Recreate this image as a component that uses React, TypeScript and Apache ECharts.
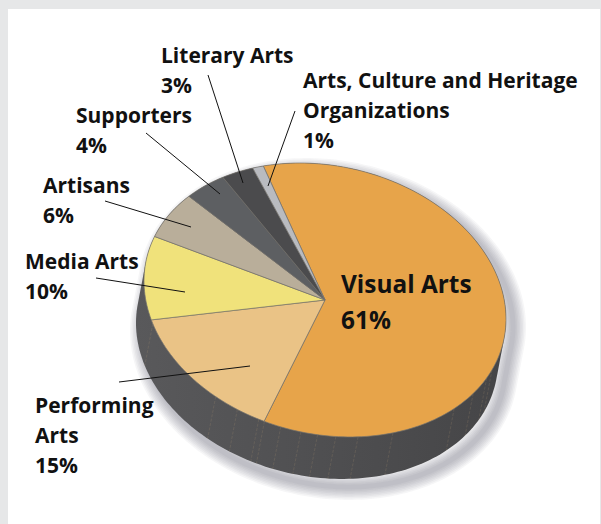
import React, { useEffect, useRef } from "react";
import * as echarts from "echarts";

const categories = [
  "Visual Arts",
  "Performing\nArts",
  "Media Arts",
  "Artisans",
  "Supporters",
  "Literary Arts",
  "Arts, Culture and Heritage\nOrganizations",
];
const shares = [61, 15, 10, 6, 4, 3, 1];
const sliceColors = ["#e7a44a", "#eac386", "#f0e27b", "#b9ae9a", "#5d5f62", "#4b4b4d", "#b9bbc0"];
// Seams on the pie's side wall, as angles round the disc (degrees, clockwise from the long axis)
const wallSeams = [13, 17, 25.4, 34.8, 58.3, 69.8, 76.9, 82.7, 88, 94.5, 99.9, 101.8, 109.3, 117.5, 152.4];
// Stroke widths of the stacked translucent outlines that make the soft drop shadow
const shadowLayers = [26, 23, 20, 17, 14, 11, 8, 5];

const CX = 325, CY = 300, A = 183.2, B = 134, TILT = (13.1 * Math.PI) / 180;
const DX = -8, DY = 42;
const START = -119.6;
const rad = (d: number) => (d * Math.PI) / 180;
const cosT = Math.cos(TILT), sinT = Math.sin(TILT);
const rim = (deg: number, ox = 0, oy = 0): number[] => {
  const x = A * Math.cos(rad(deg)), y = B * Math.sin(rad(deg));
  return [CX + x * cosT - y * sinT + ox, CY + x * sinT + y * cosT + oy];
};
const arc = (from: number, to: number, ox = 0, oy = 0) => {
  const n = Math.max(2, Math.ceil(Math.abs(to - from) / 1.5));
  const pts: number[][] = [];
  for (let i = 0; i <= n; i++) pts.push(rim(from + ((to - from) * i) / n, ox, oy));
  return pts;
};
// The direction of the extrusion, in the disc's own frame
const wallDir = (Math.atan2((-DX * sinT + DY * cosT) / B, (DX * cosT + DY * sinT) / A) * 180) / Math.PI;
const hull = (ox = 0, oy = 0) => [
  ...arc(wallDir - 90, wallDir + 90, DX + ox, DY + oy),
  ...arc(wallDir + 90, wallDir + 270, ox, oy),
];

const labelSpots: Record<string, { x: number; y: number }> = {
  "Performing\nArts": { x: 35, y: 390 },
  "Media Arts": { x: 25, y: 246 },
  Artisans: { x: 43, y: 170 },
  Supporters: { x: 76, y: 100 },
  "Literary Arts": { x: 161, y: 40 },
  "Arts, Culture and Heritage\nOrganizations": { x: 303, y: 65 },
};
const leaders = [
  [119, 382, 250, 366],
  [96, 278, 185, 292],
  [105, 201, 191, 227],
  [146, 133, 220, 194],
  [208, 75, 243, 183],
  [295, 111, 268, 186],
];
const FONT = '"Open Sans", sans-serif';

export default function App() {
  const ref = useRef<HTMLDivElement>(null);
  useEffect(() => {
    const chart = echarts.init(ref.current!, undefined, { renderer: "svg" });
    const total = shares.reduce((a, b) => a + b, 0);
    const graphicEls: any[] = [
      { type: "rect", z: 0, silent: true, shape: { x: 8, y: 9, width: 592, height: 515 }, style: { fill: "#ffffff" } },
    ];
    leaders.forEach(([x1, y1, x2, y2]) =>
      graphicEls.push({ type: "line", z: 50, silent: true, shape: { x1, y1, x2, y2 }, style: { stroke: "#111111", lineWidth: 1 } })
    );
    categories.forEach((c, i) => {
      const spot = labelSpots[c];
      if (!spot) return;
      graphicEls.push({
        type: "text", z: 60, silent: true, x: spot.x, y: spot.y,
        style: { text: `${c}\n${shares[i]}%`, font: `700 21px ${FONT}`, lineHeight: 30, fill: "#111111", align: "left", verticalAlign: "top" },
      });
    });
    graphicEls.push({
      type: "text", z: 60, silent: true, x: 341, y: 265,
      style: { text: `${categories[0]}\n${shares[0]}%`, font: `700 24.4px ${FONT}`, lineHeight: 36, fill: "#111111", align: "left", verticalAlign: "top" },
    });

    chart.setOption({
      animation: false,
      backgroundColor: "#e6e7e8",
      graphic: { elements: graphicEls },
      series: [
        {
          type: "custom",
          coordinateSystem: "none",
          silent: true,
          z: 1,
          data: shadowLayers,
          renderItem: (_p: any, api: any) => ({
            type: "polygon",
            shape: { points: hull(7, 8) },
            style: {
              fill: "none",
              stroke: "rgba(72,80,96,0.05)",
              lineWidth: api.value(0),
              lineJoin: "round",
            },
          }),
        },
        {
          type: "custom",
          coordinateSystem: "none",
          silent: true,
          z: 2,
          data: [0],
          renderItem: () => ({
            type: "polygon",
            shape: { points: hull() },
            style: {
              fill: new echarts.graphic.LinearGradient(0, 0, 1, 0, [
                { offset: 0, color: "#59595b" },
                { offset: 1, color: "#454547" },
              ]),
            },
          }),
        },
        {
          type: "custom",
          coordinateSystem: "none",
          silent: true,
          z: 3,
          data: wallSeams,
          renderItem: (_p: any, api: any) => {
            const t = api.value(0);
            const [x1, y1] = rim(t);
            const [x2, y2] = rim(t, DX, DY);
            return {
              type: "line",
              shape: { x1, y1, x2, y2 },
              style: { stroke: "rgba(175,150,115,0.32)", lineWidth: 0.6, lineDash: [3, 1.5] },
            };
          },
        },
        {
          type: "custom",
          coordinateSystem: "none",
          silent: true,
          z: 4,
          data: shares,
          renderItem: (p: any, api: any) => {
            const before = shares.slice(0, p.dataIndex).reduce((a, b) => a + b, 0);
            const from = START + (before / total) * 360;
            const to = from + (api.value(0) / total) * 360;
            return {
              type: "polygon",
              shape: { points: [[CX, CY], ...arc(from, to)] },
              style: { fill: sliceColors[p.dataIndex], stroke: "#75736d", lineWidth: 0.7 },
            };
          },
        },
      ],
    });
    return () => chart.dispose();
  }, []);
  return <div ref={ref} style={{ position: "absolute", left: 0, top: 0, width: 601, height: 524 }} />;
}
